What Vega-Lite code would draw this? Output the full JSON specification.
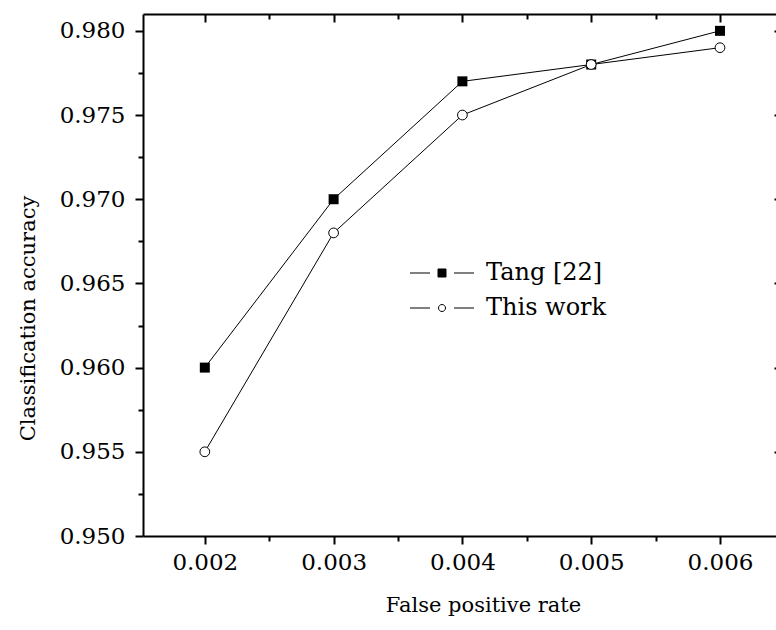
{
  "$schema": "https://vega.github.io/schema/vega-lite/v6.json",
  "autosize": {"type": "none"},
  "width": 633,
  "height": 522,
  "padding": {"left": 143, "top": 14, "right": 0, "bottom": 94},
  "background": "white",
  "view": {"stroke": null},
  "config": {
    "font": "DejaVu Serif",
    "axis": {"grid": false, "labelFont": "DejaVu Serif", "titleFont": "DejaVu Serif", "labelColor": "black", "titleColor": "black", "tickColor": "black", "domainColor": "black", "titleFontWeight": "normal"}
  },
  "data": {
    "values": [
      {"fpr": 0.002, "acc": 0.960, "series": "Tang [22]"},
      {"fpr": 0.003, "acc": 0.970, "series": "Tang [22]"},
      {"fpr": 0.004, "acc": 0.977, "series": "Tang [22]"},
      {"fpr": 0.005, "acc": 0.978, "series": "Tang [22]"},
      {"fpr": 0.006, "acc": 0.980, "series": "Tang [22]"},
      {"fpr": 0.002, "acc": 0.955, "series": "This work"},
      {"fpr": 0.003, "acc": 0.968, "series": "This work"},
      {"fpr": 0.004, "acc": 0.975, "series": "This work"},
      {"fpr": 0.005, "acc": 0.978, "series": "This work"},
      {"fpr": 0.006, "acc": 0.979, "series": "This work"}
    ]
  },
  "resolve": {"axis": {"x": "independent", "y": "independent"}},
  "layer": [
    {
      "mark": {"type": "line", "color": "black", "strokeWidth": 1},
      "encoding": {
        "detail": {"field": "series"},
        "x": {"field": "fpr", "type": "quantitative", "scale": {"domain": [0.00152, 0.006435], "nice": false, "zero": false},
          "axis": {"orient": "bottom", "values": [0.002, 0.003, 0.004, 0.005, 0.006], "format": ".3f", "labelFontSize": 23, "labelPadding": 7, "tickSize": 8, "tickWidth": 2, "domainWidth": 2, "title": "False positive rate", "titleFontSize": 21, "titleX": 340, "titleY": 75, "titleBaseline": "alphabetic", "titleAnchor": null, "titleAlign": "center"}},
        "y": {"field": "acc", "type": "quantitative", "scale": {"domain": [0.95, 0.981], "nice": false, "zero": false},
          "axis": {"orient": "left", "values": [0.95, 0.955, 0.96, 0.965, 0.97, 0.975, 0.98], "format": ".3f", "labelFontSize": 23, "labelPadding": 10, "tickSize": 8, "tickWidth": 2, "domainWidth": 2, "title": "Classification accuracy", "titleFontSize": 21, "titleX": -115, "titleY": 304, "titleAngle": -90, "titleBaseline": "middle", "titleAlign": "center", "titleAnchor": null}}
      }
    },
    {
      "transform": [{"filter": "datum.series === 'Tang [22]'"}],
      "mark": {"type": "point", "shape": "square", "filled": true, "color": "black", "size": 100, "opacity": 1},
      "encoding": {
        "x": {"field": "fpr", "type": "quantitative", "scale": {"domain": [0.00152, 0.006435], "nice": false, "zero": false},
          "axis": {"orient": "bottom", "values": [0.0025, 0.0035, 0.0045, 0.0055], "labels": false, "domain": false, "tickSize": 5, "tickWidth": 2, "title": null}},
        "y": {"field": "acc", "type": "quantitative", "scale": {"domain": [0.95, 0.981], "nice": false, "zero": false},
          "axis": {"orient": "left", "values": [0.9525, 0.9575, 0.9625, 0.9675, 0.9725, 0.9775], "labels": false, "domain": false, "tickSize": 5, "tickWidth": 2, "title": null}}
      }
    },
    {
      "transform": [{"filter": "datum.series === 'This work'"}],
      "mark": {"type": "point", "shape": "circle", "filled": true, "fill": "white", "stroke": "black", "strokeWidth": 1, "size": 95, "opacity": 1},
      "encoding": {
        "x": {"field": "fpr", "type": "quantitative", "scale": {"domain": [0.00152, 0.006435], "nice": false, "zero": false},
          "axis": {"orient": "top", "values": [0.002, 0.003, 0.004, 0.005, 0.006], "labels": false, "domainWidth": 2, "tickSize": -8, "tickWidth": 2, "title": null}},
        "y": {"field": "acc", "type": "quantitative", "scale": {"domain": [0.95, 0.981], "nice": false, "zero": false},
          "axis": {"orient": "right", "values": [0.955, 0.96, 0.965, 0.97, 0.975, 0.98], "labels": false, "domain": false, "tickSize": -2, "tickWidth": 2, "title": null}}
      }
    },
    {
      "mark": {"type": "point", "opacity": 0, "filled": true},
      "encoding": {
        "x": {"field": "fpr", "type": "quantitative", "scale": {"domain": [0.00152, 0.006435], "nice": false, "zero": false},
          "axis": {"orient": "top", "values": [0.0025, 0.0035, 0.0045, 0.0055], "labels": false, "domain": false, "tickSize": -5, "tickWidth": 2, "title": null}},
        "y": {"field": "acc", "type": "quantitative", "scale": {"domain": [0.95, 0.981], "nice": false, "zero": false},
          "axis": {"orient": "right", "values": [0.9525], "labels": false, "domain": false, "tickSize": 0, "ticks": false, "title": null}},
        "shape": {"field": "series", "type": "nominal",
          "scale": {"domain": ["Tang [22]", "This work"], "range": ["M-3.2,0H-1.2M1.2,0H3.2M-0.4,-0.4H0.4V0.4H-0.4Z", "M-3.2,0H-1.2M1.2,0H3.2M0.35,0A0.35,0.35,0,1,1,-0.35,0A0.35,0.35,0,1,1,0.35,0Z"]},
          "legend": {"orient": "none", "legendX": 287, "legendY": 247, "title": null, "padding": 0, "symbolSize": 400, "labelFont": "DejaVu Serif", "labelFontSize": 24, "labelColor": "black", "labelOffset": 32, "rowPadding": 11,
            "encode": {"symbols": {"update": {"stroke": {"value": "black"}, "strokeWidth": {"value": 1}, "opacity": {"value": 1}, "fillOpacity": {"value": 1}, "strokeOpacity": {"value": 1}}}}}},
        "fill": {"field": "series", "type": "nominal",
          "scale": {"domain": ["Tang [22]", "This work"], "range": ["black", "white"]},
          "legend": {"orient": "none", "legendX": 287, "legendY": 247, "title": null, "padding": 0, "symbolSize": 400, "labelFont": "DejaVu Serif", "labelFontSize": 24, "labelColor": "black", "labelOffset": 32, "rowPadding": 11,
            "encode": {"symbols": {"update": {"stroke": {"value": "black"}, "strokeWidth": {"value": 1}, "opacity": {"value": 1}, "fillOpacity": {"value": 1}, "strokeOpacity": {"value": 1}}}}}}
      }
    }
  ]
}
